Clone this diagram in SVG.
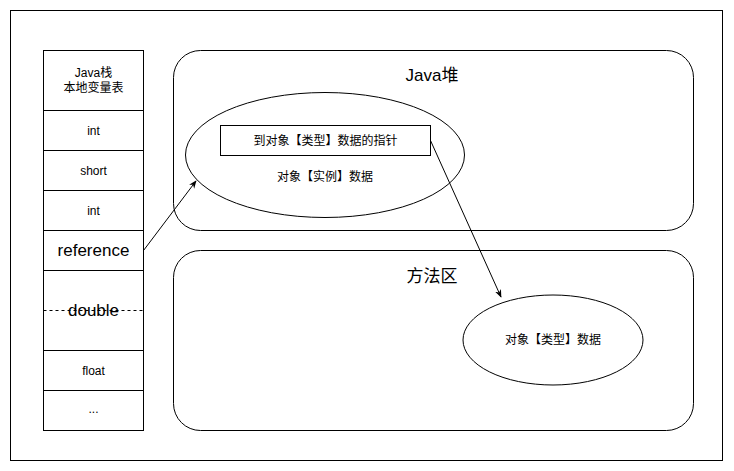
<svg xmlns="http://www.w3.org/2000/svg" width="734" height="471" viewBox="0 0 734 471">
<defs>
<style>
.s{fill:#fff;stroke:#000;stroke-width:1}
.t{font-family:"Liberation Sans","Noto Sans CJK SC",sans-serif;fill:#000;text-anchor:middle;dominant-baseline:central}
.c{stroke:#000;stroke-width:1;fill:none}
</style>
<marker id="ah" viewBox="0 0 10 10" refX="9" refY="5" markerWidth="8" markerHeight="8" orient="auto" markerUnits="userSpaceOnUse">
<path d="M0,1 L10,5 L0,9 L3,5 Z" fill="#000"/>
</marker>
</defs>
<rect width="734" height="471" fill="#fff"/>
<g id="frame"><rect class="s" x="10.5" y="10.5" width="712" height="450"/></g>
<g id="stack">
<rect class="s" x="43.5" y="50.5" width="100" height="60"/>
<text class="t" x="93.5" y="73" font-size="12">Java栈</text>
<text class="t" x="93.5" y="88" font-size="12">本地变量表</text>
<rect class="s" x="43.5" y="110.5" width="100" height="40"/>
<text class="t" x="93.5" y="130.5" font-size="12">int</text>
<rect class="s" x="43.5" y="150.5" width="100" height="40"/>
<text class="t" x="93.5" y="170.5" font-size="12">short</text>
<rect class="s" x="43.5" y="190.5" width="100" height="40"/>
<text class="t" x="93.5" y="210.5" font-size="12">int</text>
<rect class="s" x="43.5" y="230.5" width="100" height="40"/>
<text class="t" x="93.5" y="250.5" font-size="17">reference</text>
<rect class="s" x="43.5" y="270.5" width="100" height="80"/>
<line x1="43.5" y1="310.5" x2="143.5" y2="310.5" stroke="#000" stroke-dasharray="3 3"/>
<text class="t" x="93.5" y="310.5" font-size="17">double</text>
<rect class="s" x="43.5" y="350.5" width="100" height="40"/>
<text class="t" x="93.5" y="370.5" font-size="12">float</text>
<rect class="s" x="43.5" y="390.5" width="100" height="40"/>
<text class="t" x="93.5" y="408.5" font-size="12">...</text>
</g>
<g id="heap">
<rect class="s" x="173.5" y="50.5" width="520" height="180" rx="27" ry="27"/>
<text class="t" x="432" y="75" font-size="17">Java堆</text>
</g>
<g id="instance">
<ellipse class="s" cx="325" cy="155" rx="139.5" ry="62.5"/>
<text class="t" x="325" y="177" font-size="12">对象【实例】数据</text>
</g>
<g id="pointer">
<rect class="s" x="220.5" y="125.5" width="210" height="30"/>
<text class="t" x="325.5" y="141" font-size="12">到对象【类型】数据的指针</text>
</g>
<g id="method">
<rect class="s" x="173.5" y="250.5" width="520" height="180" rx="27" ry="27"/>
<text class="t" x="432" y="276" font-size="17">方法区</text>
</g>
<g id="typedata">
<ellipse class="s" cx="553" cy="340" rx="90" ry="45"/>
<text class="t" x="553" y="340" font-size="12">对象【类型】数据</text>
</g>
<g id="connectors">
<line class="c" x1="143.5" y1="250.5" x2="196" y2="181" marker-end="url(#ah)"/>
<line class="c" x1="430.5" y1="140.5" x2="501" y2="297" marker-end="url(#ah)"/>
</g>
</svg>
